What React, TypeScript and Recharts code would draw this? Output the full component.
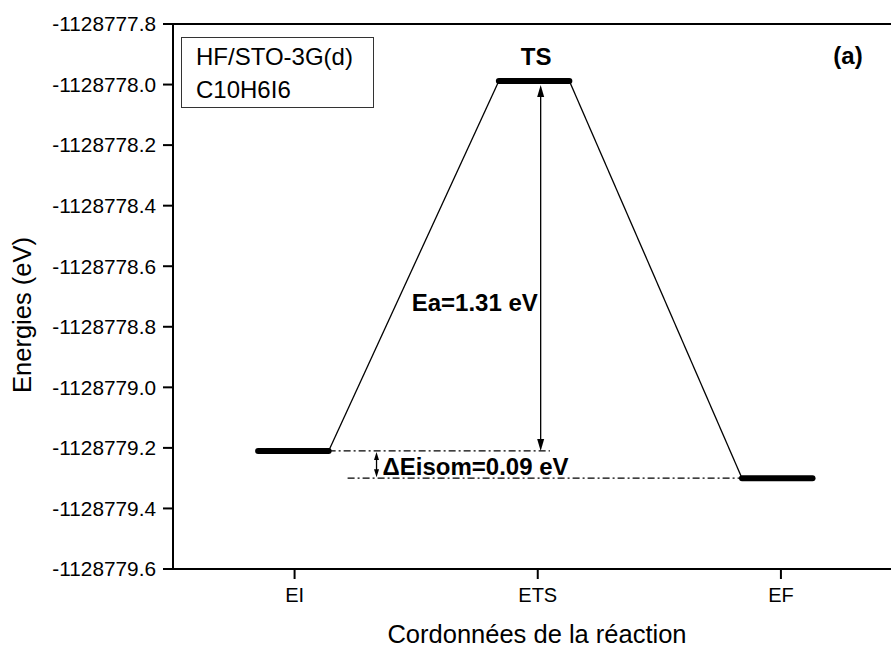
import React from 'react';
import { ComposedChart, Line, XAxis, YAxis, ReferenceLine, ReferenceDot, Label } from 'recharts';

// ---- data ----
const categories = ['EI', 'ETS', 'EF'];
const categoryPositions = [1, 2, 3];
const levelEnergies = [-1128779.21, -1128777.988, -1128779.3];
const levelStarts = [0.85, 1.84, 2.84];
const levelEnds = [1.14, 2.13, 3.13];
const yTicks = [
  -1128779.6, -1128779.4, -1128779.2, -1128779.0, -1128778.8,
  -1128778.6, -1128778.4, -1128778.2, -1128778.0, -1128777.8,
];
const yDomain = [-1128779.6, -1128777.8];
const xDomain = [0.5, 3.4527];
const tsLabel = 'TS';
const eaLabel = 'Ea=1.31 eV';
const isomLabel = '\u0394Eisom=0.09 eV';
const panelLabel = '(a)';
const legendLines = ['HF/STO-3G(d)', 'C10H6I6'];
const xTitle = 'Cordonnées de la réaction';
const yTitle = 'Energies (eV)';

// annotation anchors (data coordinates)
const eaArrowX = 2.012;
const isomArrowX = 1.337;
const eiDashEnd = 2.05;
const efDashStart = 1.218;
const eaLabelPos = { x: 1.741, y: -1128778.721 };
const panelLabelPos = { x: 3.276, y: -1128777.932 };

const FONT = '"Liberation Sans", Arial, Helvetica, sans-serif';

const levelData = levelEnergies.map((e, i) => [
  { x: levelStarts[i], y: e },
  { x: levelEnds[i], y: e },
]);
const connector1 = [
  { x: levelEnds[0], y: levelEnergies[0] },
  { x: levelStarts[1], y: levelEnergies[1] },
];
const connector2 = [
  { x: levelEnds[1], y: levelEnergies[1] },
  { x: levelStarts[2], y: levelEnergies[2] },
];

const makeArrow = (headLen: number, headW: number, insetTop: number, insetBottom: number, sw: number) =>
  (props: any) => {
    const { x1, y1, x2, y2 } = props;
    const x = x1;
    const top = Math.min(y1, y2) + insetTop;
    const bot = Math.max(y1, y2) - insetBottom;
    return (
      <g>
        <line x1={x} y1={top + headLen - 1} x2={x2} y2={bot - headLen + 1} stroke="#000" strokeWidth={sw} />
        <polygon points={`${x},${top} ${x - headW / 2},${top + headLen} ${x + headW / 2},${top + headLen}`} fill="#000" />
        <polygon points={`${x},${bot} ${x - headW / 2},${bot - headLen} ${x + headW / 2},${bot - headLen}`} fill="#000" />
      </g>
    );
  };

const textDot = (text: string, dx: number, dy: number, anchor: string, size: number, weight: string) =>
  (props: any) => (
    <text
      x={props.cx + dx}
      y={props.cy + dy}
      textAnchor={anchor as any}
      fontSize={size}
      fontWeight={weight}
      fontFamily={FONT}
      fill="#000"
    >
      {text}
    </text>
  );

export default function App() {
  return (
    <div style={{ position: 'absolute', left: 0, top: 0, width: 891, height: 649, background: '#fff', fontFamily: FONT }}>
      <ComposedChart
        width={891}
        height={649}
        margin={{ top: 24, right: 0, bottom: 0, left: 0 }}
        style={{ fontFamily: FONT }}
      >
        <XAxis
          type="number"
          dataKey="x"
          domain={xDomain}
          allowDataOverflow
          ticks={categoryPositions}
          interval={0}
          tickFormatter={(v: number) => categories[Math.round(v) - 1]}
          height={80}
          tickSize={10}
          tickMargin={9}
          axisLine={{ stroke: '#000', strokeWidth: 2 }}
          tickLine={{ stroke: '#000', strokeWidth: 2 }}
          tick={{ fill: '#000', fontSize: 20, fontFamily: FONT }}
        >
          <Label
            content={() => (
              <text x={537} y={643} textAnchor="middle" fontSize={25.5} fontFamily={FONT} fill="#000">
                {xTitle}
              </text>
            )}
          />
        </XAxis>
        <YAxis
          type="number"
          dataKey="y"
          domain={yDomain}
          allowDataOverflow
          ticks={yTicks}
          interval={0}
          width={173}
          tickFormatter={(v: number) => v.toFixed(1)}
          tickSize={10}
          tickMargin={7}
          axisLine={{ stroke: '#000', strokeWidth: 2 }}
          tickLine={{ stroke: '#000', strokeWidth: 2 }}
          tick={{ fill: '#000', fontSize: 20.8, fontFamily: FONT }}
        >
          <Label
            content={() => (
              <text
                x={31}
                y={315}
                transform="rotate(-90 31 315)"
                textAnchor="middle"
                fontSize={25.5}
                fontFamily={FONT}
                fill="#000"
              >
                {yTitle}
              </text>
            )}
          />
        </YAxis>

        <ReferenceLine y={yDomain[1]} stroke="#000" strokeWidth={2} />

        {/* dash-dot guide lines */}
        <ReferenceLine
          segment={[
            { x: levelEnds[0], y: levelEnergies[0] },
            { x: eiDashEnd, y: levelEnergies[0] },
          ]}
          stroke="#000"
          strokeOpacity={1}
          strokeWidth={1.2}
          strokeDasharray="7 3 2 3"
        />
        <ReferenceLine
          segment={[
            { x: efDashStart, y: levelEnergies[2] },
            { x: levelStarts[2], y: levelEnergies[2] },
          ]}
          stroke="#000"
          strokeOpacity={1}
          strokeWidth={1.2}
          strokeDasharray="7 3 2 3"
        />

        {/* connectors */}
        <Line data={connector1} dataKey="y" type="linear" stroke="#000" strokeWidth={1.3} dot={false} isAnimationActive={false} />
        <Line data={connector2} dataKey="y" type="linear" stroke="#000" strokeWidth={1.3} dot={false} isAnimationActive={false} />

        {/* energy levels */}
        {levelData.map((d, i) => (
          <Line
            key={i}
            data={d}
            dataKey="y"
            type="linear"
            stroke="#000"
            strokeWidth={6}
            strokeLinecap="round"
            dot={false}
            isAnimationActive={false}
          />
        ))}

        {/* arrows */}
        <ReferenceLine
          segment={[
            { x: eaArrowX, y: levelEnergies[1] },
            { x: eaArrowX, y: levelEnergies[0] },
          ]}
          shape={makeArrow(12, 7, 4, 0, 1.3)}
        />
        <ReferenceLine
          segment={[
            { x: isomArrowX, y: levelEnergies[0] },
            { x: isomArrowX, y: levelEnergies[2] },
          ]}
          shape={makeArrow(8, 5, 1, 1, 1.3)}
        />

        {/* labels */}
        <ReferenceDot
          x={(levelStarts[1] + levelEnds[1]) / 2}
          y={levelEnergies[1]}
          r={0}
          shape={textDot(tsLabel, 2, -16, 'middle', 24, 'bold')}
        />
        <ReferenceDot x={eaLabelPos.x} y={eaLabelPos.y} r={0} shape={textDot(eaLabel, 0, 8, 'middle', 24, 'bold')} />
        <ReferenceDot x={isomArrowX} y={levelEnergies[2]} r={0} shape={textDot(isomLabel, 6, -3, 'start', 24, 'bold')} />
        <ReferenceDot x={panelLabelPos.x} y={panelLabelPos.y} r={0} shape={textDot(panelLabel, 0, 0, 'middle', 24, 'bold')} />
      </ComposedChart>

      <div
        style={{
          position: 'absolute',
          left: 181,
          top: 37,
          width: 193,
          height: 71,
          border: '1px solid #333',
          boxSizing: 'border-box',
          paddingLeft: 14,
          paddingTop: 2,
          fontSize: 24,
          lineHeight: '33px',
          color: '#000',
          fontFamily: FONT,
          background: '#fff',
        }}
      >
        {legendLines.map((l) => (
          <div key={l}>{l}</div>
        ))}
      </div>
    </div>
  );
}
